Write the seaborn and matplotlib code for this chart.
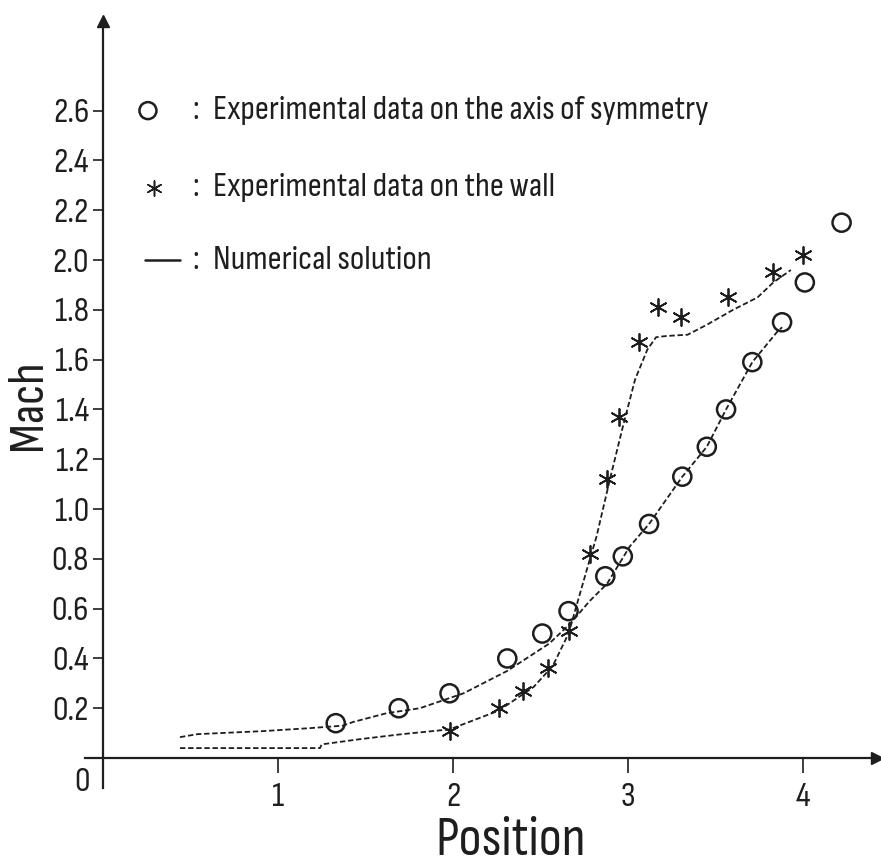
import matplotlib
matplotlib.use("Agg")
import matplotlib.pyplot as plt
import seaborn as sns

# experimental data, axis of symmetry (circles)
axis_x = [1.33, 1.69, 1.98, 2.31, 2.51, 2.66, 2.87, 2.97, 3.12, 3.31, 3.45, 3.56, 3.71, 3.88, 4.01, 4.22]
axis_y = [0.14, 0.20, 0.26, 0.40, 0.50, 0.59, 0.73, 0.81, 0.94, 1.13, 1.25, 1.40, 1.59, 1.75, 1.91, 2.15]

# experimental data, wall (asterisks)
wall_x = [1.98, 2.26, 2.40, 2.54, 2.66, 2.78, 2.88, 2.95, 3.06, 3.17, 3.30, 3.57, 3.83, 4.00]
wall_y = [0.11, 0.20, 0.27, 0.36, 0.51, 0.82, 1.12, 1.37, 1.67, 1.81, 1.77, 1.85, 1.95, 2.02]

# numerical solution, axis
num_axis_x = [0.44, 0.54, 0.91, 1.18, 1.37, 1.43, 1.62, 1.81, 2.06, 2.31, 2.55, 2.67,
              2.78, 2.88, 3.01, 3.12, 3.31, 3.45, 3.56, 3.71, 3.85, 3.88]
num_axis_y = [0.084, 0.096, 0.108, 0.12, 0.13, 0.145, 0.18, 0.20, 0.26, 0.35, 0.46, 0.54,
              0.63, 0.70, 0.85, 0.94, 1.13, 1.25, 1.40, 1.59, 1.71, 1.73]

# numerical solution, wall
num_wall_x = [0.44, 1.24, 1.25, 1.47, 1.71, 1.98, 2.26, 2.46, 2.57, 2.66, 2.77, 2.82,
              2.90, 2.97, 3.04, 3.11, 3.16, 3.22, 3.34, 3.45, 3.60, 3.74, 3.83, 3.93]
num_wall_y = [0.04, 0.04, 0.055, 0.076, 0.096, 0.115, 0.19, 0.285, 0.37, 0.50, 0.77, 0.89,
              1.13, 1.33, 1.52, 1.64, 1.69, 1.695, 1.70, 1.74, 1.80, 1.85, 1.91, 1.96]

y_ticks = [0.2, 0.4, 0.6, 0.8, 1.0, 1.2, 1.4, 1.6, 1.8, 2.0, 2.2, 2.4, 2.6]
x_ticks = [1, 2, 3, 4]

legend_labels = ["Experimental data on the axis of symmetry",
                 "Experimental data on the wall",
                 "Numerical solution"]

sns.set_theme(style="white")
# narrow face to imitate the plotter lettering
plt.rcParams['font.family'] = ['Sofia Sans Condensed', 'Sofia Sans Semi Condensed', 'DejaVu Sans']
INK = "#1e1e1e"
FS = 25

fig = plt.figure(figsize=(8.81, 8.67), dpi=100)
ax = fig.add_axes([0.097, 0.0912, 0.898, 0.8846])
ax.set_xlim(-0.1, 4.42)
ax.set_ylim(-0.12, 2.96)

dash = (0, (3, 1.5))
sns.lineplot(x=num_axis_x, y=num_axis_y, ax=ax, color=INK, lw=1.3,
             sort=False, estimator=None)
sns.lineplot(x=num_wall_x, y=num_wall_y, ax=ax, color=INK, lw=1.3,
             sort=False, estimator=None)
for line in ax.lines:
    line.set_linestyle(dash)

ax.scatter(axis_x, axis_y, s=170, marker='o', facecolors='none',
           edgecolors=INK, linewidths=1.8, zorder=3)
ax.scatter(wall_x, wall_y, s=150, marker=(6, 2, 0), color=INK,
           linewidths=1.3, zorder=3)

# axes through the origin
for side in ["top", "right"]:
    ax.spines[side].set_visible(False)
ax.spines["left"].set_position(("data", 0))
ax.spines["bottom"].set_position(("data", 0))
for side in ["left", "bottom"]:
    ax.spines[side].set_color(INK)
    ax.spines[side].set_linewidth(1.6)
ax.plot(1, 0, ">", color=INK, ms=9, transform=ax.get_yaxis_transform(), clip_on=False)
ax.plot(0, 1, "^", color=INK, ms=9, transform=ax.get_xaxis_transform(), clip_on=False)

ax.set_xticks(x_ticks)
ax.set_xticklabels([str(t) for t in x_ticks])
ax.set_yticks(y_ticks)
ax.set_yticklabels([f"{t:.1f}" for t in y_ticks])
ax.tick_params(axis="x", direction="out", length=11, width=1.2, pad=7,
               labelsize=FS, colors=INK, bottom=True)
ax.tick_params(axis="y", direction="out", length=7, width=1.2, pad=3,
               labelsize=FS, colors=INK, left=True)

ax.text(-0.12, -0.10, "0", fontsize=FS, ha="center", va="center", color=INK)
ax.text(2.33, -0.33, "Position", fontsize=40, ha="center", va="center", color=INK)
ax.text(-0.43, 1.42, "Mach", fontsize=36, rotation=90, ha="center", va="center", color=INK)

# hand-drawn legend, as on the plotter output
leg_y = [2.60, 2.29, 2.00]
ax.scatter([0.257], [leg_y[0]], s=150, marker='o', facecolors='none',
           edgecolors=INK, linewidths=1.8)
ax.scatter([0.29], [leg_y[1]], s=120, marker=(6, 2, 0), color=INK, linewidths=1.1)
ax.plot([0.24, 0.44], [leg_y[2], leg_y[2]], color=INK, lw=1.8)
for yy, lab in zip(leg_y, legend_labels):
    ax.text(0.53, yy, ":", fontsize=FS, ha="center", va="center", color=INK)
    ax.text(0.63, yy, lab, fontsize=FS, ha="left", va="center", color=INK)

fig.savefig("out.png", dpi=100)
